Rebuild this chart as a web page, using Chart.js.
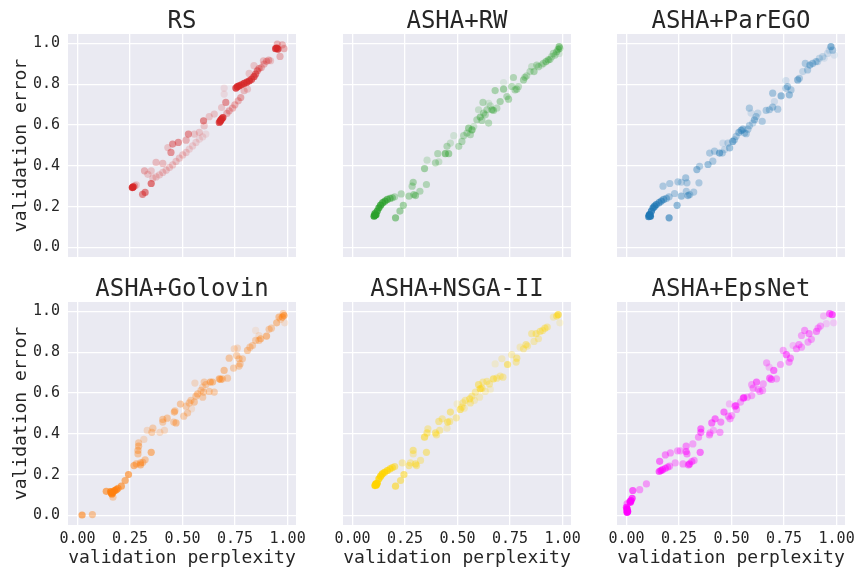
<!DOCTYPE html>
<html>
<head>
<meta charset="utf-8">
<script src="https://cdn.jsdelivr.net/npm/chart.js@4"></script>
<style>
  html, body { margin: 0; padding: 0; background: #ffffff; }
  #fig { position: relative; width: 857px; height: 569px; overflow: hidden; }
  #fig canvas { position: absolute; }
</style>
</head>
<body>
<div id="fig"></div>
<script>
// Panel titles, one per search strategy
const methods = ['RS', 'ASHA+RW', 'ASHA+ParEGO', 'ASHA+Golovin', 'ASHA+NSGA-II', 'ASHA+EpsNet'];

const xTickValues = [0, 0.25, 0.5, 0.75, 1.0];
const xTickLabels = ['0.00', '0.25', '0.50', '0.75', '1.00'];
const yTickValues = [0, 0.2, 0.4, 0.6, 0.8, 1.0];
const yTickLabels = ['0.0', '0.2', '0.4', '0.6', '0.8', '1.0'];
const xAxisTitle = 'validation perplexity';
const yAxisTitle = 'validation error';

// Each evaluation: [validation perplexity, validation error, recency weight]
const rsPoints = [
  [0.943,0.974,.8],[0.948,0.977,.8],[0.954,0.972,.8],[0.951,0.997,.3],[0.975,0.993,.3],[0.983,0.974,.3],[0.964,0.936,.3],
  [0.754,0.781,.8],[0.761,0.788,.8],[0.769,0.792,.8],[0.780,0.797,.8],[0.793,0.804,.8],[0.806,0.810,.8],[0.818,0.817,.8],
  [0.829,0.825,.7],[0.840,0.837,.7],[0.848,0.850,.6],[0.856,0.866,.5],[0.864,0.877,.4],[0.875,0.882,.3],[0.888,0.899,.3],
  [0.900,0.912,.3],[0.910,0.918,.3],[0.885,0.915,.25],[0.919,0.915,.2],[0.840,0.891,.2],[0.817,0.853,.2],
  [0.793,0.768,.25],[0.809,0.776,.2],[0.777,0.735,.35],[0.765,0.719,.3],[0.749,0.699,.3],[0.738,0.683,.3],[0.722,0.670,.3],
  [0.711,0.657,.3],[0.698,0.781,.1],[0.698,0.752,.1],[0.706,0.711,.45],[0.686,0.686,.2],
  [0.679,0.618,.8],[0.682,0.624,.8],[0.687,0.631,.8],[0.692,0.637,.8],[0.675,0.613,.7],
  [0.600,0.621,.5],[0.603,0.596,.2],[0.627,0.641,.2],[0.651,0.654,.2],[0.580,0.564,.2],[0.556,0.556,.2],[0.528,0.556,.45],
  [0.517,0.526,.3],[0.480,0.515,.45],[0.453,0.507,.45],[0.445,0.466,.45],[0.430,0.490,.2],
  [0.611,0.556,.1],[0.596,0.542,.12],[0.580,0.531,.12],[0.564,0.515,.15],[0.548,0.498,.15],[0.532,0.482,.15],[0.517,0.466,.18],
  [0.501,0.454,.2],[0.485,0.438,.2],[0.469,0.422,.2],[0.453,0.405,.2],[0.438,0.392,.2],[0.422,0.379,.2],[0.406,0.368,.2],
  [0.390,0.356,.2],[0.374,0.346,.2],[0.359,0.340,.2],
  [0.374,0.417,.25],[0.406,0.412,.25],[0.351,0.376,.2],[0.319,0.376,.3],[0.335,0.359,.2],[0.351,0.314,.6],[0.322,0.270,.55],
  [0.310,0.261,.5],[0.261,0.294,.9],[0.265,0.297,.9],[0.272,0.302,.3],[0.280,0.307,.2]
];

const rwPoints = [
  [0.103,0.154,.9],[0.107,0.158,.9],[0.112,0.161,.9],[0.107,0.166,.8],
  [0.118,0.179,.8],[0.126,0.195,.8],[0.134,0.208,.8],[0.144,0.220,.7],[0.155,0.228,.7],[0.166,0.236,.6],[0.179,0.241,.5],
  [0.190,0.244,.4],[0.201,0.249,.3],
  [0.205,0.146,.5],[0.226,0.179,.4],[0.242,0.207,.4],
  [0.232,0.263,.3],[0.269,0.252,.35],[0.292,0.260,.35],[0.300,0.255,.4],[0.321,0.276,.3],[0.289,0.320,.35],[0.284,0.301,.3],
  [0.352,0.309,.3],[0.343,0.387,.4],[0.355,0.428,.2],[0.395,0.415,.3],[0.411,0.420,.2],[0.406,0.460,.3],[0.442,0.460,.5],
  [0.458,0.460,.4],[0.450,0.496,.3],[0.466,0.512,.2],[0.482,0.548,.15],[0.506,0.496,.3],[0.521,0.520,.3],[0.529,0.548,.3],
  [0.545,0.561,.3],[0.553,0.585,.4],[0.561,0.553,.3],[0.569,0.577,.5],[0.577,0.593,.2],[0.592,0.626,.3],[0.608,0.639,.4],
  [0.616,0.623,.3],[0.600,0.675,.2],[0.621,0.711,.3],[0.624,0.659,.3],[0.632,0.650,.3],[0.648,0.610,.3],[0.640,0.675,.3],
  [0.664,0.675,.4],[0.671,0.672,.35],[0.687,0.683,.25],[0.703,0.715,.35],[0.679,0.769,.35],[0.719,0.776,.4],[0.735,0.740,.3],
  [0.743,0.727,.35],[0.758,0.789,.3],[0.766,0.833,.3],[0.774,0.772,.3],[0.782,0.776,.3],[0.790,0.789,.25],[0.814,0.821,.35],
  [0.821,0.834,.3],[0.829,0.841,.25],[0.845,0.862,.25],[0.853,0.886,.2],[0.864,0.862,.35],[0.877,0.894,.3],[0.885,0.886,.3],
  [0.900,0.894,.2],[0.908,0.902,.3],[0.921,0.911,.4],[0.932,0.919,.35],[0.940,0.922,.3],[0.948,0.935,.25],[0.956,0.951,.3],
  [0.964,0.943,.3],[0.972,0.959,.35],[0.979,0.971,.4],[0.984,0.984,.45],[0.987,0.976,.3],[0.984,0.951,.15],[0.719,0.808,.1],
  [0.656,0.694,.2],[0.648,0.707,.15]
];

const paregoPoints = [
  [0.108,0.158,.9],[0.111,0.163,.9],[0.114,0.154,.9],[0.106,0.151,.8],
  [0.119,0.179,.8],[0.127,0.195,.8],[0.134,0.203,.7],[0.142,0.211,.7],[0.155,0.220,.6],[0.166,0.228,.6],[0.177,0.236,.5],
  [0.190,0.241,.4],[0.203,0.249,.35],
  [0.203,0.146,.6],[0.241,0.207,.45],
  [0.261,0.252,.4],[0.293,0.255,.45],[0.301,0.260,.3],[0.320,0.272,.3],[0.285,0.276,.3],[0.229,0.265,.3],[0.174,0.301,.3],
  [0.206,0.314,.3],[0.245,0.322,.3],[0.261,0.320,.25],[0.282,0.341,.35],[0.288,0.317,.3],[0.345,0.317,.3],[0.335,0.382,.4],
  [0.348,0.398,.3],[0.388,0.407,.4],[0.411,0.423,.3],[0.396,0.463,.3],[0.419,0.472,.3],[0.443,0.463,.5],[0.456,0.463,.3],
  [0.467,0.480,.2],[0.491,0.488,.4],[0.483,0.512,.25],[0.459,0.512,.15],[0.506,0.520,.5],[0.514,0.528,.3],[0.522,0.545,.3],
  [0.535,0.564,.4],[0.546,0.574,.45],[0.554,0.580,.4],[0.570,0.558,.3],[0.562,0.561,.3],[0.578,0.580,.3],[0.585,0.597,.3],
  [0.601,0.610,.25],[0.609,0.626,.4],[0.617,0.642,.3],[0.646,0.618,.3],[0.625,0.659,.2],[0.665,0.672,.3],[0.680,0.675,.3],
  [0.696,0.688,.35],[0.585,0.683,.3],[0.593,0.659,.15],[0.720,0.678,.3],[0.704,0.715,.15],[0.696,0.756,.35],[0.736,0.743,.45],
  [0.759,0.780,.3],[0.767,0.789,.35],[0.775,0.748,.4],[0.783,0.772,.3],[0.759,0.818,.15],[0.815,0.821,.45],[0.823,0.829,.3],
  [0.839,0.862,.2],[0.851,0.902,.3],[0.862,0.870,.3],[0.873,0.894,.4],[0.886,0.902,.35],[0.902,0.911,.3],[0.918,0.927,.2],
  [0.910,0.911,.2],[0.934,0.935,.2],[0.957,0.951,.15],[0.973,0.984,.5],[0.981,0.967,.3],[0.965,0.967,.15],[0.941,0.927,.1],
  [0.989,0.943,.1]
];

const golovinPoints = [
  [0.022,0.003,.6],[0.071,0.005,.4],
  [0.161,0.111,.8],[0.169,0.114,.8],[0.177,0.123,.8],[0.185,0.127,.7],[0.164,0.106,.8],[0.158,0.118,.8],[0.193,0.134,.6],
  [0.137,0.119,.6],[0.169,0.090,.3],[0.209,0.144,.6],[0.227,0.172,.55],[0.243,0.201,.6],[0.269,0.245,.5],[0.280,0.253,.4],
  [0.300,0.248,.45],[0.300,0.258,.4],[0.311,0.261,.35],[0.322,0.273,.35],[0.351,0.310,.5],[0.288,0.302,.35],[0.288,0.319,.4],
  [0.291,0.340,.4],[0.291,0.356,.3],[0.316,0.373,.2],[0.332,0.417,.2],[0.359,0.428,.3],[0.354,0.408,.3],[0.392,0.408,.2],
  [0.414,0.417,.2],[0.406,0.471,.35],[0.427,0.477,.35],[0.406,0.458,.3],[0.458,0.458,.3],[0.469,0.454,.4],[0.461,0.507,.4],
  [0.464,0.513,.3],[0.490,0.546,.35],[0.506,0.487,.3],[0.524,0.503,.3],[0.517,0.536,.3],[0.543,0.523,.15],[0.540,0.564,.3],
  [0.532,0.552,.3],[0.556,0.556,.35],[0.564,0.585,.35],[0.572,0.596,.35],[0.596,0.580,.3],[0.600,0.605,.3],[0.588,0.613,.3],
  [0.596,0.629,.2],[0.559,0.649,.2],[0.603,0.654,.3],[0.611,0.642,.3],[0.632,0.654,.45],[0.643,0.654,.4],[0.627,0.608,.3],
  [0.651,0.605,.3],[0.675,0.670,.45],[0.682,0.667,.4],[0.690,0.670,.3],[0.714,0.673,.3],[0.698,0.711,.4],[0.743,0.722,.3],
  [0.722,0.771,.35],[0.746,0.817,.2],[0.761,0.820,.2],[0.758,0.784,.3],[0.769,0.768,.3],[0.774,0.743,.3],[0.785,0.768,.3],
  [0.769,0.732,.3],[0.809,0.809,.35],[0.821,0.825,.3],[0.833,0.833,.3],[0.848,0.858,.3],[0.864,0.858,.3],[0.872,0.866,.4],
  [0.864,0.882,.15],[0.848,0.907,.1],[0.900,0.879,.45],[0.912,0.912,.3],[0.923,0.918,.3],[0.948,0.944,.4],[0.959,0.972,.4],
  [0.975,0.972,.5],[0.983,0.980,.5],[0.979,0.989,.3],[0.986,0.944,.15],[0.967,0.961,.2]
];

const nsgaPoints = [
  [0.111,0.155,.9],[0.114,0.150,.9],[0.118,0.158,.9],[0.107,0.147,.9],
  [0.126,0.180,.8],[0.134,0.193,.8],[0.142,0.204,.8],[0.153,0.212,.75],[0.166,0.221,.7],[0.179,0.229,.6],[0.190,0.235,.5],
  [0.201,0.240,.45],
  [0.205,0.144,.55],[0.229,0.172,.45],[0.245,0.201,.5],[0.237,0.258,.3],[0.269,0.245,.35],[0.276,0.258,.3],[0.300,0.253,.4],
  [0.305,0.245,.35],[0.324,0.270,.3],[0.352,0.310,.4],[0.289,0.319,.4],[0.289,0.302,.25],[0.343,0.384,.5],[0.355,0.405,.4],
  [0.359,0.425,.3],[0.395,0.405,.4],[0.400,0.395,.3],[0.415,0.417,.3],[0.411,0.461,.35],[0.427,0.474,.3],[0.453,0.458,.4],
  [0.463,0.461,.3],[0.450,0.428,.2],[0.466,0.507,.4],[0.494,0.479,.3],[0.498,0.547,.15],[0.513,0.520,.45],[0.521,0.531,.3],
  [0.532,0.526,.2],[0.526,0.552,.3],[0.537,0.564,.3],[0.558,0.572,.4],[0.561,0.552,.3],[0.569,0.585,.3],[0.580,0.564,.2],
  [0.585,0.605,.3],[0.605,0.580,.2],[0.600,0.641,.4],[0.608,0.621,.5],[0.616,0.624,.35],[0.621,0.654,.3],[0.632,0.608,.2],
  [0.640,0.657,.3],[0.652,0.645,.3],[0.656,0.618,.15],[0.671,0.670,.45],[0.687,0.673,.3],[0.703,0.683,.25],[0.711,0.768,.2],
  [0.716,0.678,.3],[0.679,0.743,.15],[0.738,0.740,.45],[0.758,0.788,.25],[0.779,0.752,.3],[0.782,0.771,.35],[0.798,0.825,.2],
  [0.814,0.817,.3],[0.826,0.837,.35],[0.833,0.830,.25],[0.853,0.891,.3],[0.864,0.853,.25],[0.874,0.891,.35],[0.885,0.866,.25],
  [0.893,0.902,.35],[0.905,0.907,.3],[0.916,0.918,.35],[0.927,0.923,.3],[0.956,0.972,.2],[0.979,0.984,.55],[0.987,0.944,.15],
  [0.972,0.977,.4]
];

const epsnetPoints = [
  [0.003,0.025,.9],[0.003,0.016,.9],[0.003,0.033,.9],[0.000,0.041,.7],[0.006,0.020,.9],[0.003,0.057,.4],
  [0.019,0.065,.8],[0.022,0.074,.8],[0.027,0.085,.7],[0.016,0.069,.6],[0.030,0.123,.6],[0.063,0.127,.35],[0.095,0.155,.35],
  [0.156,0.216,.6],[0.164,0.221,.6],[0.172,0.225,.55],[0.185,0.232,.5],[0.196,0.237,.4],[0.205,0.242,.35],[0.158,0.266,.5],
  [0.185,0.297,.4],[0.209,0.307,.35],[0.243,0.317,.3],[0.256,0.317,.3],[0.284,0.340,.4],[0.284,0.314,.45],[0.288,0.302,.4],
  [0.316,0.351,.3],[0.351,0.310,.5],[0.232,0.258,.3],[0.269,0.253,.35],[0.295,0.248,.45],[0.300,0.253,.5],[0.311,0.265,.4],
  [0.322,0.270,.35],[0.343,0.384,.35],[0.354,0.425,.5],[0.354,0.408,.45],[0.395,0.395,.35],[0.398,0.405,.3],[0.414,0.417,.25],
  [0.406,0.454,.5],[0.422,0.474,.5],[0.445,0.408,.35],[0.449,0.458,.4],[0.464,0.507,.5],[0.485,0.487,.35],[0.493,0.474,.35],
  [0.501,0.490,.3],[0.490,0.547,.2],[0.517,0.536,.45],[0.521,0.539,.4],[0.524,0.520,.3],[0.543,0.556,.3],[0.556,0.575,.5],
  [0.559,0.578,.4],[0.575,0.580,.3],[0.596,0.588,.3],[0.603,0.624,.35],[0.596,0.641,.3],[0.619,0.654,.5],[0.627,0.618,.3],
  [0.635,0.608,.3],[0.648,0.613,.3],[0.651,0.645,.3],[0.682,0.673,.5],[0.690,0.667,.4],[0.714,0.670,.3],[0.701,0.711,.5],
  [0.667,0.748,.3],[0.679,0.727,.2],[0.733,0.740,.3],[0.746,0.809,.3],[0.761,0.788,.5],[0.774,0.752,.35],[0.780,0.771,.4],
  [0.793,0.833,.2],[0.809,0.817,.35],[0.821,0.837,.35],[0.833,0.825,.3],[0.833,0.882,.3],[0.848,0.907,.35],[0.864,0.850,.3],
  [0.869,0.891,.4],[0.880,0.863,.3],[0.904,0.902,.4],[0.912,0.918,.3],[0.923,0.928,.3],[0.938,0.977,.2],[0.967,0.989,.5],
  [0.979,0.984,.6],[0.986,0.944,.15],[0.951,0.940,.15]
];

const panelPoints = [rsPoints, rwPoints, paregoPoints, golovinPoints, nsgaPoints, epsnetPoints];
const panelRGB = ['214,39,40', '44,160,44', '31,119,180', '255,127,14', '255,212,0', '255,0,255'];

// Figure geometry
const MONO = '"DejaVu Sans Mono", monospace';
const TEXT = '#262626';
const plotLefts = [68, 343, 617];
const plotTops = [34, 302];
const PW = 228, PH = 223;
const ML = 68, MT = 34, MB = 45, MR = 22;

const panelBackground = {
  id: 'panelBackground',
  beforeDraw(chart) {
    const a = chart.chartArea, ctx = chart.ctx;
    ctx.save();
    ctx.fillStyle = '#eaeaf2';
    ctx.fillRect(a.left, a.top, a.right - a.left, a.bottom - a.top);
    ctx.restore();
  }
};

const fig = document.getElementById('fig');
methods.forEach((name, i) => {
  const row = Math.floor(i / 3), col = i % 3;
  const canvas = document.createElement('canvas');
  canvas.width = ML + PW + MR;
  canvas.height = MT + PH + MB;
  canvas.style.left = (plotLefts[col] - ML) + 'px';
  canvas.style.top = (plotTops[row] - MT) + 'px';
  canvas.style.width = canvas.width + 'px';
  canvas.style.height = canvas.height + 'px';
  fig.appendChild(canvas);

  const pts = panelPoints[i];
  new Chart(canvas, {
    type: 'scatter',
    data: {
      datasets: [{
        data: pts.map(p => ({ x: p[0], y: p[1] })),
        pointBackgroundColor: pts.map(p => `rgba(${panelRGB[i]},${p[2]})`),
        pointBorderWidth: 0,
        pointBorderColor: 'rgba(0,0,0,0)',
        pointRadius: 3.6,
        pointHoverRadius: 3.6
      }]
    },
    plugins: [panelBackground],
    options: {
      responsive: false,
      animation: false,
      devicePixelRatio: 1,
      events: [],
      layout: { padding: { left: 0, right: MR, top: 0, bottom: 0 } },
      plugins: {
        legend: { display: false },
        tooltip: { enabled: false },
        title: {
          display: true,
          fullSize: false,
          text: name,
          color: TEXT,
          font: { family: MONO, size: 24, weight: 'normal', lineHeight: 1 },
          padding: { top: 10, bottom: 0 }
        }
      },
      scales: {
        x: {
          type: 'linear',
          min: -0.045, max: 1.04,
          afterBuildTicks: s => { s.ticks = xTickValues.map(v => ({ value: v })); },
          afterFit: s => { s.height = MB; },
          border: { display: false },
          grid: { color: '#ffffff', lineWidth: 1.3, drawTicks: false },
          ticks: {
            display: row === 1,
            autoSkip: false, maxRotation: 0,
            padding: 5,
            color: TEXT,
            font: { family: MONO, size: 15 },
            callback: v => xTickLabels[xTickValues.indexOf(v)]
          },
          title: {
            display: row === 1,
            text: xAxisTitle,
            color: TEXT,
            font: { family: MONO, size: 18 },
            padding: { top: 0, bottom: 1 }
          }
        },
        y: {
          type: 'linear',
          min: -0.046, max: 1.046,
          afterBuildTicks: s => { s.ticks = yTickValues.map(v => ({ value: v })); },
          afterFit: s => { s.width = ML; },
          border: { display: false },
          grid: { color: '#ffffff', lineWidth: 1.3, drawTicks: false },
          ticks: {
            display: col === 0,
            autoSkip: false,
            padding: 8,
            color: TEXT,
            font: { family: MONO, size: 15 },
            callback: v => yTickLabels[yTickValues.findIndex(t => Math.abs(t - v) < 1e-9)]
          },
          title: {
            display: col === 0,
            text: yAxisTitle,
            color: TEXT,
            font: { family: MONO, size: 18 },
            padding: { top: 11, bottom: 0 }
          }
        }
      }
    }
  });
});
</script>
</body>
</html>
